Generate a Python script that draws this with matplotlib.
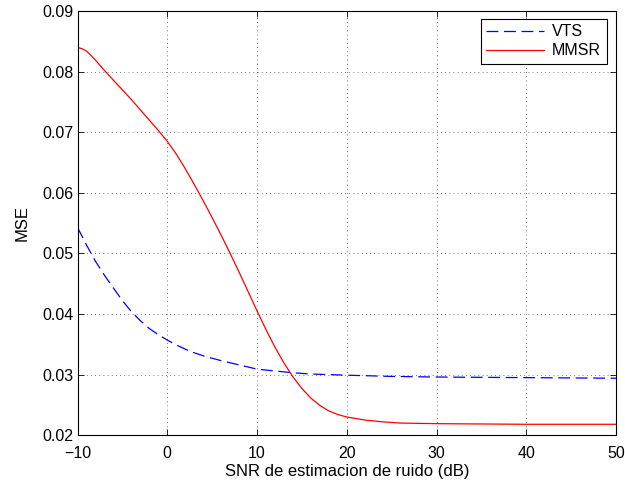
import numpy as np
import matplotlib.pyplot as plt

plt.rcParams['font.family'] = ['Liberation Sans', 'DejaVu Sans']
plt.rcParams['font.size'] = 11

# data
snr_vts = [-10, -9, -8, -7, -6, -5, -4, -3, -2, -1, 0, 1, 2, 3, 4, 5, 6, 8, 10,
           12, 14, 16, 20, 25, 30, 40, 50]
mse_vts = [0.0543, 0.0514, 0.0487, 0.0464, 0.0443, 0.0422, 0.0404, 0.0389,
           0.0376, 0.0366, 0.0357, 0.0349, 0.0342, 0.0336, 0.0331, 0.0327,
           0.0323, 0.0316, 0.0309, 0.0306, 0.0303, 0.0301, 0.0299, 0.0297,
           0.0296, 0.0295, 0.0294]

snr_mmsr = [-10, -9.5, -9, -8.5, -8, -7, -6, -5, -4, -3, -2, -1, 0, 1, 2, 3, 4,
            5, 6, 7, 8, 9, 10, 11, 12, 13, 14, 15, 16, 17, 18, 19, 20, 22, 24,
            26, 30, 40, 50]
mse_mmsr = [0.0840, 0.0838, 0.0834, 0.0827, 0.0819, 0.0802, 0.0786, 0.0770,
            0.0754, 0.0737, 0.0720, 0.0703, 0.0685, 0.0664, 0.0640, 0.0614,
            0.0587, 0.0559, 0.0530, 0.0500, 0.0469, 0.0437, 0.0405, 0.0374,
            0.0345, 0.0319, 0.0296, 0.0277, 0.0261, 0.0249, 0.0240, 0.0234,
            0.0230, 0.0225, 0.0222, 0.0220, 0.0219, 0.0218, 0.0218]

fig = plt.figure(figsize=(6.25, 4.83), dpi=100)
ax = fig.add_axes([0.124, 0.099, 0.862, 0.878])

ax.plot(snr_vts, mse_vts, color='blue', linestyle=(0, (9.5, 4.5)),
        linewidth=0.9, label='VTS')
ax.plot(snr_mmsr, mse_mmsr, color='red', linewidth=0.9, label='MMSR')

ax.set_xlim(-10, 50)
ax.set_ylim(0.02, 0.09)
ax.set_xticks(np.arange(-10, 51, 10))
ax.set_yticks(np.arange(0.02, 0.0901, 0.01))
ax.set_yticklabels(['%.2f' % v for v in np.arange(0.02, 0.0901, 0.01)])
ax.set_xticklabels(['\u221210'] + [str(v) for v in range(0, 51, 10)])
ax.tick_params(direction='in', top=True, right=True, length=4, width=0.6,
               labelsize=11.5)
ax.tick_params(axis='x', pad=8)
ax.tick_params(axis='y', pad=3)
for s in ax.spines.values():
    s.set_linewidth(0.8)
ax.grid(True, linestyle=(0, (1, 4)), color='black', linewidth=0.6, alpha=0.7)

ax.set_xlabel('SNR de estimacion de ruido (dB)', fontsize=12, labelpad=2)
ax.set_ylabel('MSE', fontsize=12, labelpad=9)

leg = ax.legend(loc='upper right', bbox_to_anchor=(0.982, 0.982), fancybox=False,
                framealpha=1, edgecolor='black', handlelength=3.6,
                borderaxespad=0, fontsize=11.5, labelspacing=0.25,
                handletextpad=0.5, borderpad=0.35)
leg.get_frame().set_linewidth(0.8)

fig.savefig('out.png', dpi=100)
